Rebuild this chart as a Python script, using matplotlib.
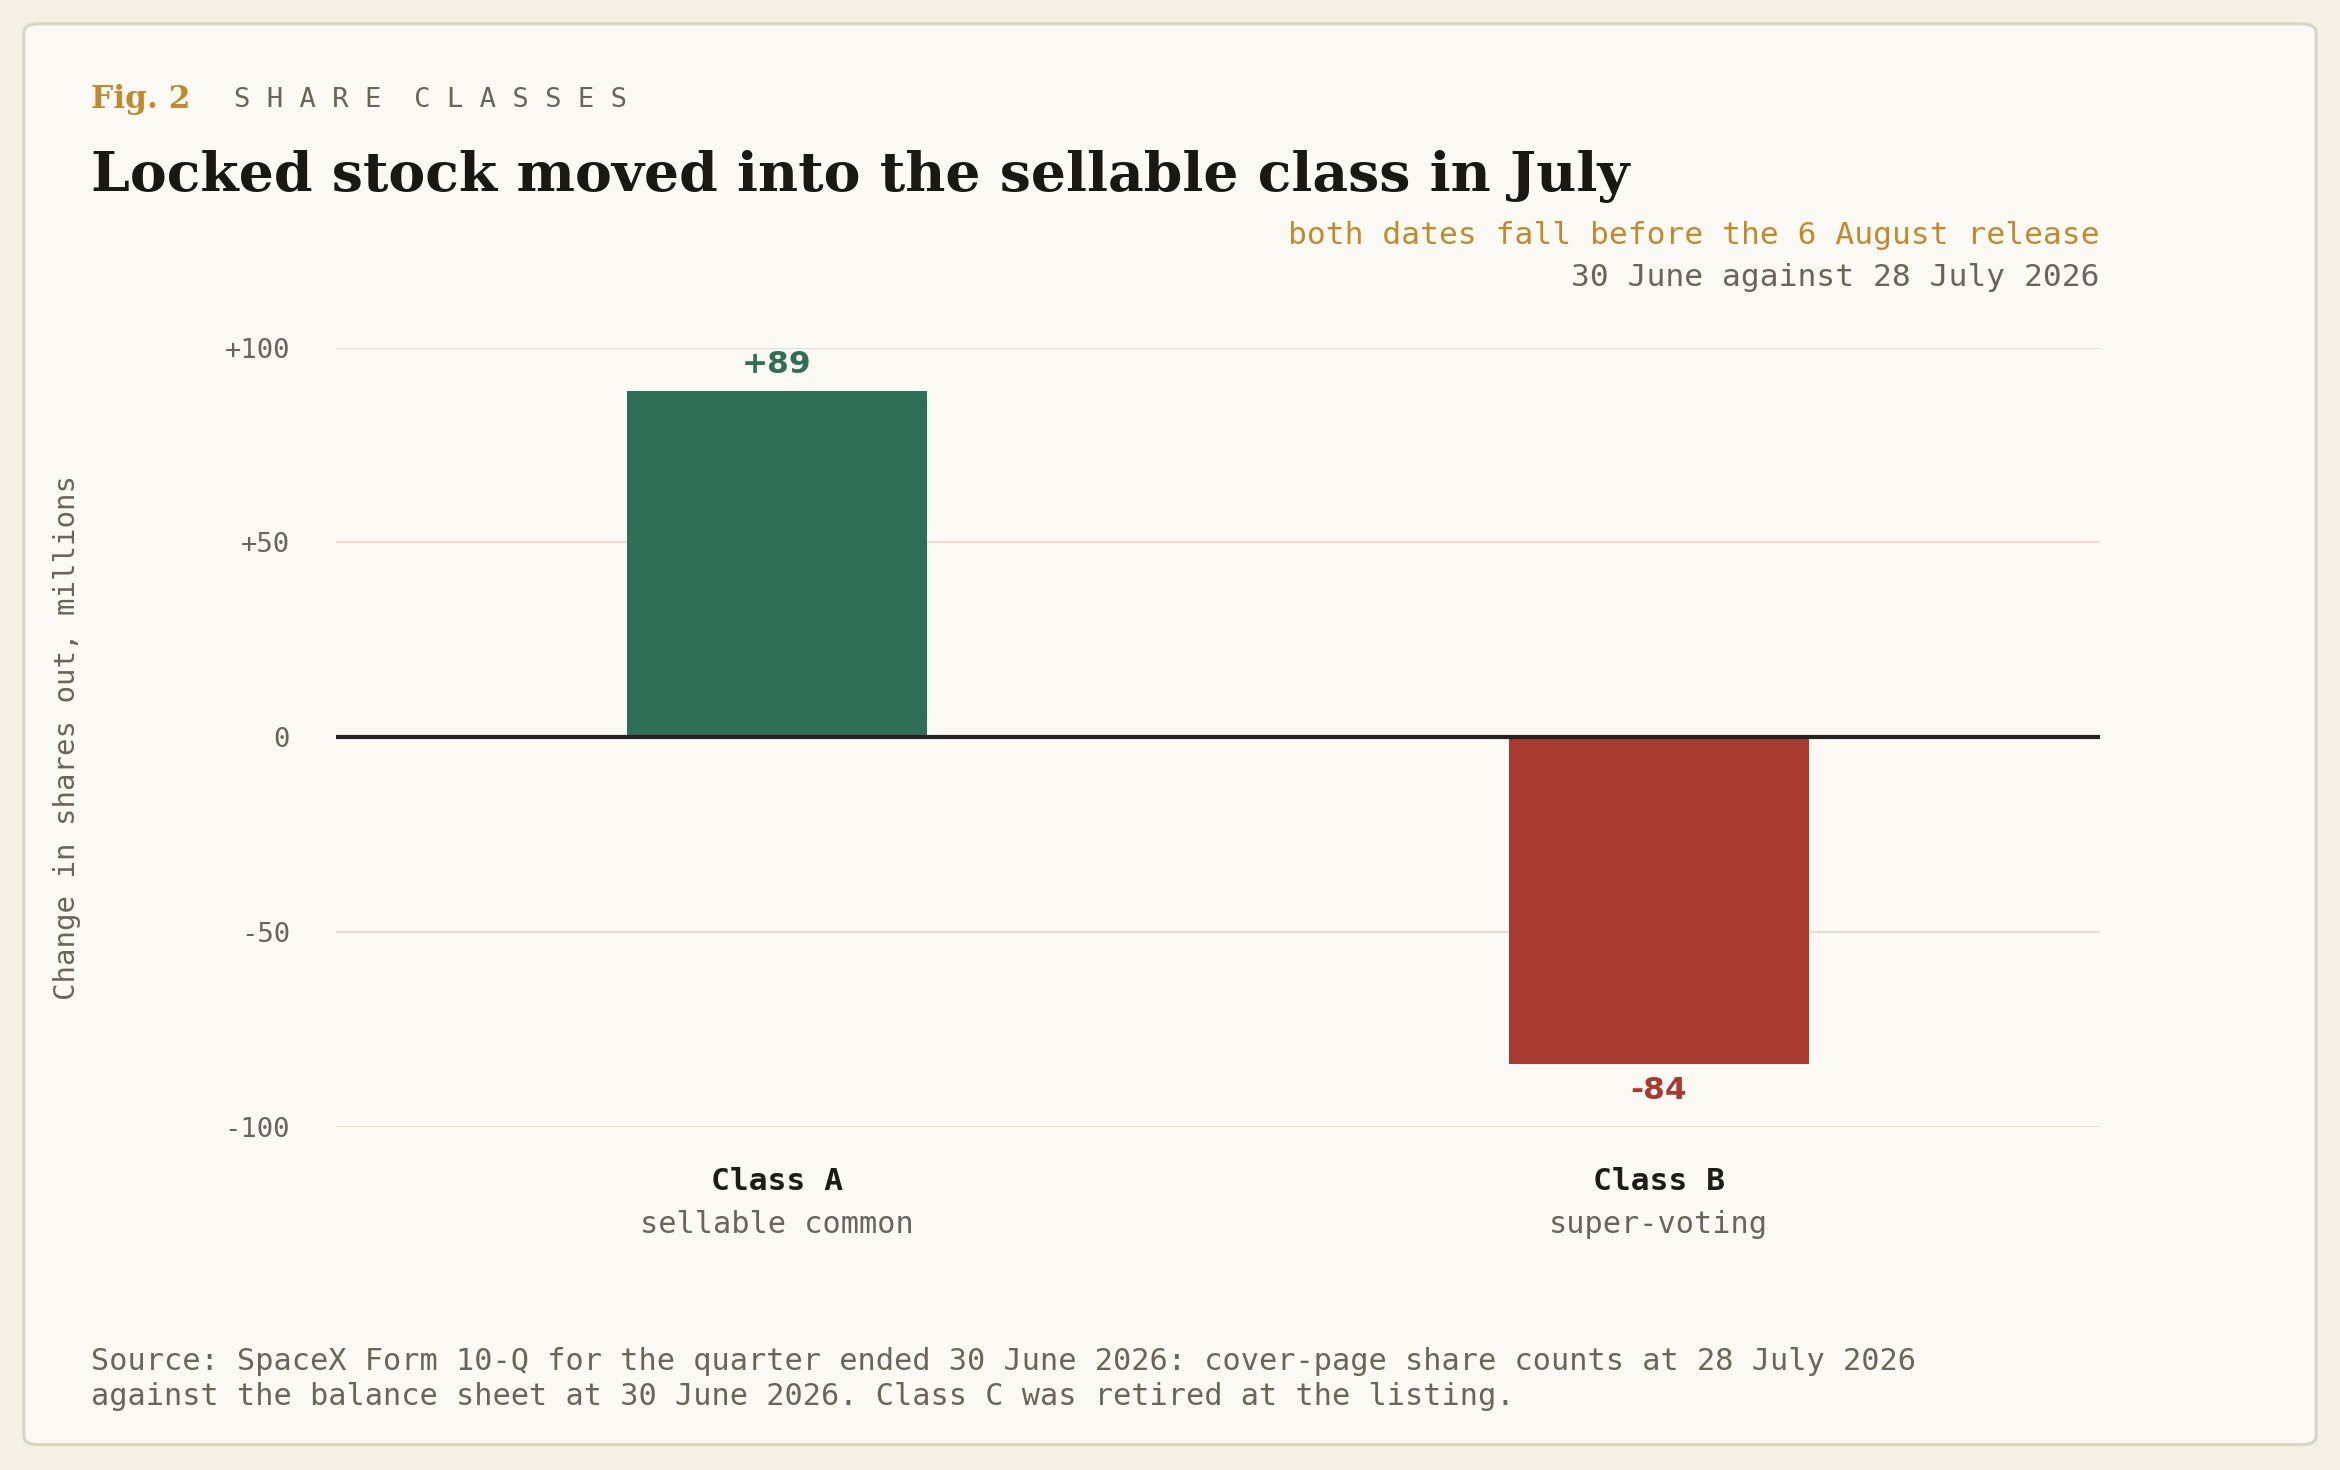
import matplotlib.pyplot as plt
from matplotlib.patches import FancyBboxPatch

categories = ['Class A', 'Class B']
subtitles = ['sellable common', 'super-voting']
values = [89, -84]
labels = ['+89', '-84']
colors = ['#2f6f57', '#a83a30']
yticks = [-100, -50, 0, 50, 100]
ytick_labels = ['-100', '-50', '0', '+50', '+100']

W, H = 1568, 985
mono = 'DejaVu Sans Mono'
fig = plt.figure(figsize=(15.6, 9.8), dpi=150, facecolor='#f5f0e6')
card = FancyBboxPatch((16 / W, 1 - 968 / H), 1536 / W, 952 / H,
                      boxstyle='round,pad=0,rounding_size=0.006',
                      transform=fig.transFigure, facecolor='#fbf9f4',
                      edgecolor='#d9d4c4', linewidth=1.5, zorder=-10)
fig.patches.append(card)

ax = fig.add_axes([225 / W, 1 - 755 / H, 1182 / W, 522 / H])
ax.set_facecolor('none')
ax.bar(range(len(values)), values, width=0.34, color=colors, zorder=2)
ax.set_xlim(-0.5, 1.5)
ax.set_ylim(-100, 100)
ax.set_yticks(yticks)
ax.set_yticklabels(ytick_labels, family=mono, fontsize=13, color='#6b6459')
ax.tick_params(axis='y', length=0, pad=22)
ax.set_xticks([])
for s in ax.spines.values():
    s.set_visible(False)
ax.grid(axis='y', color='#eadfce', linewidth=1, zorder=0)
ax.axhline(0, color='#222222', linewidth=2, zorder=3)
for i, (v, lab) in enumerate(zip(values, labels)):
    off = 3 if v > 0 else -3
    ax.text(i, v + off, lab, ha='center', va='bottom' if v > 0 else 'top',
            fontsize=15, fontweight='bold', color=colors[i], family='DejaVu Sans',
            clip_on=False)
    ax.text(i, -114, categories[i], ha='center', va='center', family=mono,
            fontsize=15, fontweight='bold', color='#1f1c17', clip_on=False)
    ax.text(i, -125, subtitles[i], ha='center', va='center', family=mono,
            fontsize=14.5, color='#6b6459', clip_on=False)
ax.set_ylabel('Change in shares out, millions', family=mono, fontsize=14,
              color='#6b6459', labelpad=0)
ax.yaxis.set_label_coords(-(225 - 54) / 1182, 0.5)

fig.text(61 / W, 1 - 67 / H, 'Fig. 2', family='DejaVu Serif', fontweight='bold',
         fontsize=15, color='#c08a2e', va='center')
fig.text(157 / W, 1 - 67 / H, 'S H A R E  C L A S S E S', family=mono,
         fontsize=13, color='#6b6459', va='center')
fig.text(61 / W, 1 - 118 / H, 'Locked stock moved into the sellable class in July',
         family='DejaVu Serif', fontweight='bold', fontsize=26.5, color='#1a1813',
         va='center')
fig.text(1407 / W, 1 - 158 / H, 'both dates fall before the 6 August release',
         family=mono, fontsize=15, color='#c08a2e', ha='right', va='center')
fig.text(1407 / W, 1 - 186 / H, '30 June against 28 July 2026',
         family=mono, fontsize=15, color='#6b6459', ha='right', va='center')
fig.text(61 / W, 1 - 924 / H,
         'Source: SpaceX Form 10-Q for the quarter ended 30 June 2026: cover-page share counts at 28 July 2026\n'
         'against the balance sheet at 30 June 2026. Class C was retired at the listing.',
         family=mono, fontsize=14.5, color='#6b6459', va='center', linespacing=1.25)

fig.savefig('out.png', dpi=150, facecolor=fig.get_facecolor())
